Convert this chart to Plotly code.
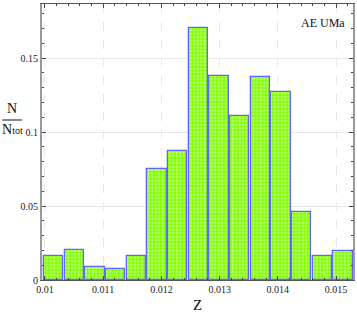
import plotly.graph_objects as go

# Data
bin_centers = [0.010148 + 0.000355 * k for k in range(15)]
fractions = [0.0164, 0.0203, 0.0090, 0.0072, 0.0164, 0.0752, 0.0870, 0.1700,
             0.1380, 0.1110, 0.1374, 0.1268, 0.0457, 0.0160, 0.0196]
x_tickvals = [0.010, 0.011, 0.012, 0.013, 0.014, 0.015]
x_ticktext = ["0.01", "0.011", "0.012", "0.013", "0.014", "0.015"]
y_tickvals = [0, 0.05, 0.1, 0.15]
y_ticktext = ["0", "0.05", "0.1", "0.15"]

serif = "Liberation Serif, Times New Roman, serif"

fig = go.Figure()
fig.add_trace(go.Bar(
    x=bin_centers, y=fractions, width=0.000355 * 0.93,
    marker=dict(color="#80ff00",
                line=dict(color="rgb(100,100,255)", width=1.3),
                pattern=dict(shape=".", fgcolor="white", fillmode="overlay",
                             size=3.5, solidity=0.4)),
    showlegend=False,
))

fig.update_layout(
    width=357, height=316,
    margin=dict(l=42, r=2, t=4, b=36),
    paper_bgcolor="white", plot_bgcolor="white",
    font=dict(family=serif, size=10, color="#222"),
    bargap=0,
    xaxis=dict(range=[0.00995, 0.01529], tickvals=x_tickvals, ticktext=x_ticktext,
               ticks="inside", ticklen=4, tickcolor="#444",
               showline=True, linecolor="#555", linewidth=1, mirror="allticks",
               showgrid=True, gridcolor="#e6e6e6", griddash="dash",
               zeroline=False,
               minor=dict(dtick=0.0002, ticks="inside", ticklen=2, tickcolor="#444", showgrid=False),
               tickfont=dict(family=serif, size=10)),
    yaxis=dict(range=[0, 0.1865], tickvals=y_tickvals, ticktext=y_ticktext,
               ticks="inside", ticklen=4, tickcolor="#444",
               showline=True, linecolor="#999", linewidth=2, mirror="allticks",
               showgrid=True, gridcolor="#e6e6e6",
               zeroline=False,
               minor=dict(dtick=0.01, ticks="inside", ticklen=2, tickcolor="#444", showgrid=False),
               tickfont=dict(family=serif, size=10)),
)

fig.add_annotation(text="AE UMa", xref="paper", yref="paper", x=0.98, y=0.93,
                   xanchor="right", yanchor="middle", showarrow=False,
                   font=dict(family=serif, size=12, color="#111"))
fig.add_annotation(text="Z", xref="paper", yref="paper", x=(198 - 42) / 313, y=-0.09,
                   xanchor="center", yanchor="middle", showarrow=False,
                   font=dict(family=serif, size=15, color="#111"))
# y title as fraction N / Ntot
fig.add_annotation(text="N", xref="paper", yref="paper", x=-30 / 313, y=(280 - 108) / 276,
                   xanchor="center", yanchor="middle", showarrow=False,
                   font=dict(family=serif, size=14, color="#111"))
fig.add_annotation(text="N<span style='font-size:10px'>tot</span>", xref="paper", yref="paper",
                   x=-30 / 313, y=(280 - 129) / 276,
                   xanchor="center", yanchor="middle", showarrow=False,
                   font=dict(family=serif, size=14, color="#111"))
fig.add_shape(type="line", xref="paper", yref="paper",
              x0=-40 / 313, x1=-20 / 313, y0=(280 - 120) / 276, y1=(280 - 120) / 276,
              line=dict(color="#111", width=1))

fig.write_html("out.html", config={"displayModeBar": False},
               post_script="document.body.style.margin='0';document.body.style.overflow='hidden';")
